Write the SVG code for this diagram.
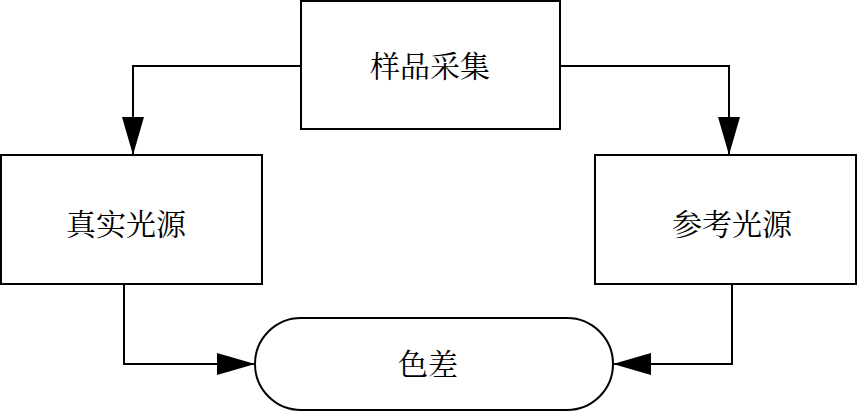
<svg xmlns="http://www.w3.org/2000/svg" width="857" height="411" viewBox="0 0 857 411">
<style>
.box{fill:#fff;stroke:#000;stroke-width:2}
.lbl{font-family:"Noto Serif CJK SC","Noto Sans CJK SC",serif;font-size:30px;fill:#000;text-anchor:middle;dominant-baseline:central}
.conn{fill:none;stroke:#000;stroke-width:2}
</style>
<defs>
<marker id="ah" markerUnits="userSpaceOnUse" markerWidth="38" markerHeight="22" refX="38" refY="11" orient="auto">
<path d="M0,0 L38,11 L0,22 Z" fill="#000"/>
</marker>
</defs>
<rect width="857" height="411" fill="#fff"/>
<g id="connectors">
<path class="conn" d="M301,66 H133 V155" marker-end="url(#ah)"/>
<path class="conn" d="M560,66 H729 V155" marker-end="url(#ah)"/>
<path class="conn" d="M124,284 V364 H255" marker-end="url(#ah)"/>
<path class="conn" d="M732,284 V364 H613" marker-end="url(#ah)"/>
</g>
<g id="n1">
<rect class="box" x="301" y="1" width="259" height="128"/>
<text class="lbl" x="430" y="64">样品采集</text>
</g>
<g id="n2">
<rect class="box" x="1" y="155" width="261" height="129"/>
<text class="lbl" x="126" y="222">真实光源</text>
</g>
<g id="n3">
<rect class="box" x="595" y="155" width="261" height="129"/>
<text class="lbl" x="732" y="222">参考光源</text>
</g>
<g id="n4">
<rect class="box" x="255" y="318" width="358" height="92" rx="46" ry="46"/>
<text class="lbl" x="428" y="362">色差</text>
</g>
</svg>
